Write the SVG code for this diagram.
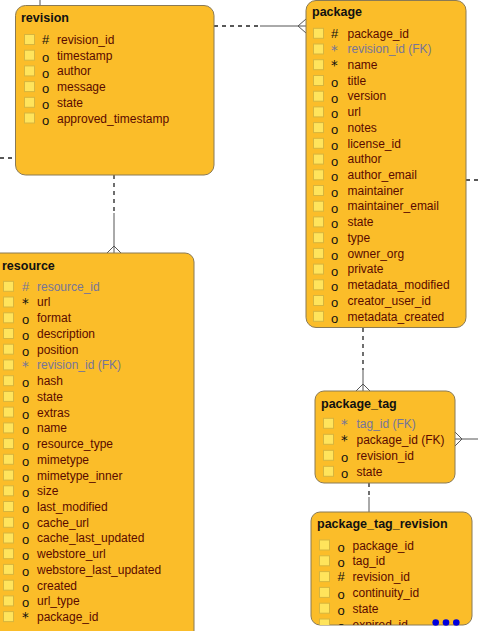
<svg xmlns="http://www.w3.org/2000/svg" width="478" height="631" viewBox="0 0 478 631">
<style>
.box{fill:#FBBD29;stroke:#8A7A55;stroke-width:1}
.sq{fill:#FFE45C;stroke:#D6B53E;stroke-width:1}
.t{font-family:"Liberation Sans",Arial,sans-serif;font-size:12px;fill:#5A0A00}
.fk{fill:#76759A}
.s{font-family:"Liberation Sans",Arial,sans-serif;font-size:13px;fill:#111}
.a{font-family:"DejaVu Sans",sans-serif;font-size:13.5px;fill:#111}
.sf{fill:#76759A}
.h{font-family:"Liberation Sans",Arial,sans-serif;font-size:12.5px;font-weight:bold;fill:#111}
.c{stroke:#555;stroke-width:1;fill:none}
.d{stroke:#222;stroke-width:1.3;stroke-dasharray:4 4;fill:none}
</style>
<defs>
<clipPath id="ptrClip"><rect x="311" y="512" width="161" height="113" rx="9"/></clipPath>
</defs>
<g id="connectors">
<line class="c" x1="40" y1="0" x2="40" y2="6"/>
<line class="d" x1="0" y1="158" x2="15" y2="158"/>
<line class="d" x1="214" y1="26" x2="260" y2="26"/>
<line class="c" x1="260" y1="26" x2="306" y2="26"/>
<polyline class="c" points="306,19 298,26 306,33"/>
<line class="d" x1="114" y1="175" x2="114" y2="213"/>
<line class="c" x1="114" y1="213" x2="114" y2="253"/>
<polyline class="c" points="107,253 114,246 121,253"/>
<line class="d" x1="466" y1="180" x2="478" y2="180"/>
<line class="d" x1="363" y1="328" x2="363" y2="370"/>
<line class="c" x1="363" y1="370" x2="363" y2="391"/>
<polyline class="c" points="356,391 363,384 370,391"/>
<line class="c" x1="455" y1="439" x2="478" y2="439"/>
<polyline class="c" points="455,432 462,439 455,446"/>
<line class="d" x1="369" y1="483" x2="369" y2="497"/>
<line class="c" x1="369" y1="497" x2="369" y2="512"/>
</g>
<g id="revision">
<rect class="box" x="15.5" y="5.5" width="198.5" height="169.5" rx="10"/>
<text class="h" x="21" y="22">revision</text>
<rect class="sq" x="24.5" y="34.5" width="10" height="10"/>
<rect class="sq" x="24.5" y="50.2" width="10" height="10"/>
<rect class="sq" x="24.5" y="65.9" width="10" height="10"/>
<rect class="sq" x="24.5" y="81.6" width="10" height="10"/>
<rect class="sq" x="24.5" y="97.3" width="10" height="10"/>
<rect class="sq" x="24.5" y="113" width="10" height="10"/>
<text class="s" x="42" y="44">#</text>
<text class="s" x="42" y="62">o</text>
<text class="s" x="42" y="77.7">o</text>
<text class="s" x="42" y="93.4">o</text>
<text class="s" x="42" y="109.1">o</text>
<text class="s" x="42" y="124.8">o</text>
<text class="t" x="57" y="44">revision_id</text>
<text class="t" x="57" y="59.7">timestamp</text>
<text class="t" x="57" y="75.4">author</text>
<text class="t" x="57" y="91.1">message</text>
<text class="t" x="57" y="106.8">state</text>
<text class="t" x="57" y="122.5">approved_timestamp</text>
</g>
<g id="package">
<rect class="box" x="306" y="0.5" width="160" height="327" rx="10"/>
<text class="h" x="312" y="16">package</text>
<g class="sqs">
<rect class="sq" x="313.5" y="28.3" width="10" height="10"/>
<rect class="sq" x="313.5" y="44" width="10" height="10"/>
<rect class="sq" x="313.5" y="59.7" width="10" height="10"/>
<rect class="sq" x="313.5" y="75.5" width="10" height="10"/>
<rect class="sq" x="313.5" y="91.2" width="10" height="10"/>
<rect class="sq" x="313.5" y="106.9" width="10" height="10"/>
<rect class="sq" x="313.5" y="122.6" width="10" height="10"/>
<rect class="sq" x="313.5" y="138.3" width="10" height="10"/>
<rect class="sq" x="313.5" y="154.1" width="10" height="10"/>
<rect class="sq" x="313.5" y="169.8" width="10" height="10"/>
<rect class="sq" x="313.5" y="185.5" width="10" height="10"/>
<rect class="sq" x="313.5" y="201.2" width="10" height="10"/>
<rect class="sq" x="313.5" y="216.9" width="10" height="10"/>
<rect class="sq" x="313.5" y="232.7" width="10" height="10"/>
<rect class="sq" x="313.5" y="248.4" width="10" height="10"/>
<rect class="sq" x="313.5" y="264.1" width="10" height="10"/>
<rect class="sq" x="313.5" y="279.8" width="10" height="10"/>
<rect class="sq" x="313.5" y="295.5" width="10" height="10"/>
<rect class="sq" x="313.5" y="311.3" width="10" height="10"/>
</g>
<text class="s" x="331" y="37.5">#</text>
<text class="a sf" x="331" y="54.5">*</text>
<text class="a" x="331" y="70.2">*</text>
<text class="s" x="331" y="87">o</text>
<text class="s" x="331" y="102.7">o</text>
<text class="s" x="331" y="118.4">o</text>
<text class="s" x="331" y="134.1">o</text>
<text class="s" x="331" y="149.8">o</text>
<text class="s" x="331" y="165.6">o</text>
<text class="s" x="331" y="181.3">o</text>
<text class="s" x="331" y="197">o</text>
<text class="s" x="331" y="212.7">o</text>
<text class="s" x="331" y="228.4">o</text>
<text class="s" x="331" y="244.2">o</text>
<text class="s" x="331" y="259.9">o</text>
<text class="s" x="331" y="275.6">o</text>
<text class="s" x="331" y="291.3">o</text>
<text class="s" x="331" y="307">o</text>
<text class="s" x="331" y="322.8">o</text>
<text class="t" x="347.5" y="37.5">package_id</text>
<text class="t fk" x="347.5" y="53.2">revision_id (FK)</text>
<text class="t" x="347.5" y="68.9">name</text>
<text class="t" x="347.5" y="84.7">title</text>
<text class="t" x="347.5" y="100.4">version</text>
<text class="t" x="347.5" y="116.1">url</text>
<text class="t" x="347.5" y="131.8">notes</text>
<text class="t" x="347.5" y="147.5">license_id</text>
<text class="t" x="347.5" y="163.3">author</text>
<text class="t" x="347.5" y="179">author_email</text>
<text class="t" x="347.5" y="194.7">maintainer</text>
<text class="t" x="347.5" y="210.4">maintainer_email</text>
<text class="t" x="347.5" y="226.1">state</text>
<text class="t" x="347.5" y="241.9">type</text>
<text class="t" x="347.5" y="257.6">owner_org</text>
<text class="t" x="347.5" y="273.3">private</text>
<text class="t" x="347.5" y="289">metadata_modified</text>
<text class="t" x="347.5" y="304.7">creator_user_id</text>
<text class="t" x="347.5" y="320.5">metadata_created</text>
</g>
<g id="resource">
<rect class="box" x="-10" y="253" width="204" height="400" rx="9"/>
<text class="h" x="2" y="270">resource</text>
<rect class="sq" x="3.5" y="281.3" width="10" height="10"/>
<rect class="sq" x="3.5" y="297" width="10" height="10"/>
<rect class="sq" x="3.5" y="312.8" width="10" height="10"/>
<rect class="sq" x="3.5" y="328.5" width="10" height="10"/>
<rect class="sq" x="3.5" y="344.2" width="10" height="10"/>
<rect class="sq" x="3.5" y="359.9" width="10" height="10"/>
<rect class="sq" x="3.5" y="375.7" width="10" height="10"/>
<rect class="sq" x="3.5" y="391.4" width="10" height="10"/>
<rect class="sq" x="3.5" y="407.1" width="10" height="10"/>
<rect class="sq" x="3.5" y="422.9" width="10" height="10"/>
<rect class="sq" x="3.5" y="438.6" width="10" height="10"/>
<rect class="sq" x="3.5" y="454.3" width="10" height="10"/>
<rect class="sq" x="3.5" y="470.1" width="10" height="10"/>
<rect class="sq" x="3.5" y="485.8" width="10" height="10"/>
<rect class="sq" x="3.5" y="501.5" width="10" height="10"/>
<rect class="sq" x="3.5" y="517.3" width="10" height="10"/>
<rect class="sq" x="3.5" y="533" width="10" height="10"/>
<rect class="sq" x="3.5" y="548.7" width="10" height="10"/>
<rect class="sq" x="3.5" y="564.4" width="10" height="10"/>
<rect class="sq" x="3.5" y="580.2" width="10" height="10"/>
<rect class="sq" x="3.5" y="595.9" width="10" height="10"/>
<rect class="sq" x="3.5" y="611.6" width="10" height="10"/>
<text class="s sf" x="22" y="290.7">#</text>
<text class="a" x="22" y="307.7">*</text>
<text class="s" x="22" y="324.2">o</text>
<text class="s" x="22" y="340">o</text>
<text class="s" x="22" y="355.7">o</text>
<text class="a sf" x="22" y="370.7">*</text>
<text class="s" x="22" y="387.1">o</text>
<text class="s" x="22" y="402.9">o</text>
<text class="s" x="22" y="418.6">o</text>
<text class="s" x="22" y="434.3">o</text>
<text class="s" x="22" y="450.1">o</text>
<text class="s" x="22" y="465.8">o</text>
<text class="s" x="22" y="481.5">o</text>
<text class="s" x="22" y="497.3">o</text>
<text class="s" x="22" y="513">o</text>
<text class="s" x="22" y="528.7">o</text>
<text class="s" x="22" y="544.4">o</text>
<text class="s" x="22" y="560.2">o</text>
<text class="s" x="22" y="575.9">o</text>
<text class="s" x="22" y="591.6">o</text>
<text class="s" x="22" y="607.4">o</text>
<text class="a" x="22" y="622.3">*</text>
<text class="t fk" x="37" y="290.7">resource_id</text>
<text class="t" x="37" y="306.4">url</text>
<text class="t" x="37" y="322.2">format</text>
<text class="t" x="37" y="337.9">description</text>
<text class="t" x="37" y="353.6">position</text>
<text class="t fk" x="37" y="369.4">revision_id (FK)</text>
<text class="t" x="37" y="385.1">hash</text>
<text class="t" x="37" y="400.8">state</text>
<text class="t" x="37" y="416.5">extras</text>
<text class="t" x="37" y="432.3">name</text>
<text class="t" x="37" y="448">resource_type</text>
<text class="t" x="37" y="463.7">mimetype</text>
<text class="t" x="37" y="479.5">mimetype_inner</text>
<text class="t" x="37" y="495.2">size</text>
<text class="t" x="37" y="510.9">last_modified</text>
<text class="t" x="37" y="526.7">cache_url</text>
<text class="t" x="37" y="542.4">cache_last_updated</text>
<text class="t" x="37" y="558.1">webstore_url</text>
<text class="t" x="37" y="573.8">webstore_last_updated</text>
<text class="t" x="37" y="589.6">created</text>
<text class="t" x="37" y="605.3">url_type</text>
<text class="t" x="37" y="621">package_id</text>
</g>
<g id="package_tag">
<rect class="box" x="315" y="391" width="140" height="92" rx="9"/>
<text class="h" x="321" y="408">package_tag</text>
<rect class="sq" x="323.5" y="418.3" width="10" height="10"/>
<rect class="sq" x="323.5" y="434.3" width="10" height="10"/>
<rect class="sq" x="323.5" y="450.3" width="10" height="10"/>
<rect class="sq" x="323.5" y="466.3" width="10" height="10"/>
<text class="a sf" x="341" y="429">*</text>
<text class="a" x="341" y="445">*</text>
<text class="s" x="341" y="461.5">o</text>
<text class="s" x="341" y="477.5">o</text>
<text class="t fk" x="356.5" y="427.8">tag_id (FK)</text>
<text class="t" x="356.5" y="443.8">package_id (FK)</text>
<text class="t" x="356.5" y="459.8">revision_id</text>
<text class="t" x="356.5" y="475.8">state</text>
</g>
<g id="package_tag_revision">
<rect class="box" x="311" y="512" width="161" height="113" rx="9"/>
<text class="h" x="317" y="528">package_tag_revision</text>
<g clip-path="url(#ptrClip)">
<rect class="sq" x="319.5" y="540" width="10" height="10"/>
<rect class="sq" x="319.5" y="555.8" width="10" height="10"/>
<rect class="sq" x="319.5" y="571.6" width="10" height="10"/>
<rect class="sq" x="319.5" y="587.4" width="10" height="10"/>
<rect class="sq" x="319.5" y="603.2" width="10" height="10"/>
<rect class="sq" x="319.5" y="619" width="10" height="10"/>
<text class="s" x="337.5" y="551.5">o</text>
<text class="s" x="337.5" y="567.3">o</text>
<text class="s" x="337.5" y="581.3">#</text>
<text class="s" x="337.5" y="598.9">o</text>
<text class="s" x="337.5" y="614.7">o</text>
<text class="s" x="337.5" y="630.5">o</text>
<text class="t" x="352.5" y="549.5">package_id</text>
<text class="t" x="352.5" y="565.3">tag_id</text>
<text class="t" x="352.5" y="581.1">revision_id</text>
<text class="t" x="352.5" y="596.9">continuity_id</text>
<text class="t" x="352.5" y="612.7">state</text>
<text class="t" x="352.5" y="628.5">expired_id</text>
</g>
<circle cx="435.7" cy="622.5" r="3.3" fill="#0000DD"/>
<circle cx="446" cy="622.5" r="3.3" fill="#0000DD"/>
<circle cx="456.3" cy="622.5" r="3.3" fill="#0000DD"/>
</g>
</svg>
